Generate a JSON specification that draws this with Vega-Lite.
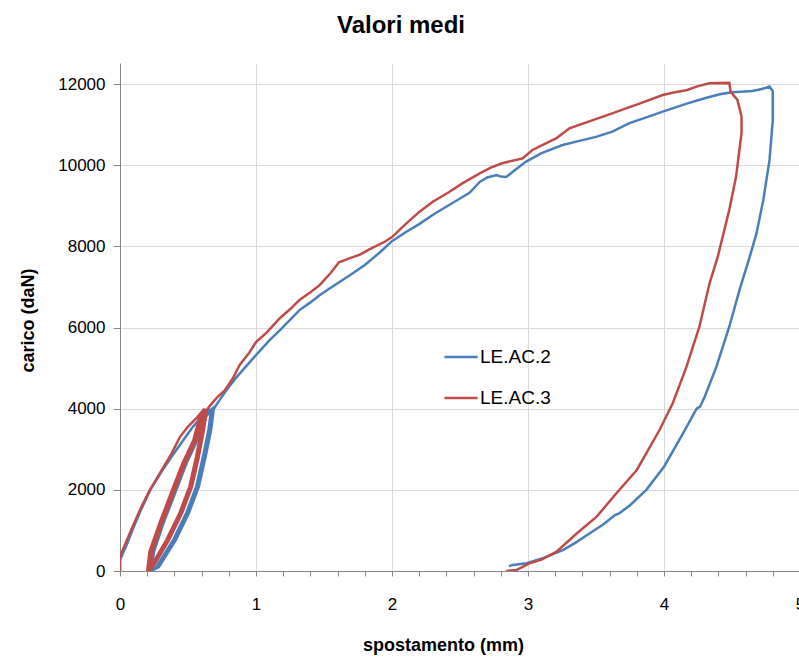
{
  "$schema": "https://vega.github.io/schema/vega-lite/v6.json",
  "autosize": "none",
  "padding": {"left": 120, "top": 63, "right": 0, "bottom": 86},
  "width": 680,
  "height": 508,
  "background": "white",
  "title": {
    "text": "Valori medi",
    "font": "Liberation Sans",
    "fontSize": 24,
    "fontWeight": "bold",
    "color": "#000000",
    "anchor": "middle",
    "dx": -59,
    "baseline": "alphabetic",
    "offset": 6
  },
  "config": {
    "view": {"stroke": null},
    "axis": {
      "domainColor": "#868686",
      "tickColor": "#868686",
      "gridColor": "#D9D9D9",
      "labelColor": "#000000",
      "titleColor": "#000000",
      "labelFont": "Liberation Sans",
      "labelFontSize": 17,
      "titleFont": "Liberation Sans",
      "titleFontSize": 18,
      "titleFontWeight": "bold"
    }
  },
  "data": {
    "values": [
      {"s":"LE.AC.2","i":1,"x":0,"y":0},{"s":"LE.AC.2","i":2,"x":0,"y":270},{"s":"LE.AC.2","i":3,"x":0.05,"y":650},{"s":"LE.AC.2","i":4,"x":0.1,"y":1080},{"s":"LE.AC.2","i":5,"x":0.16,"y":1550},{"s":"LE.AC.2","i":6,"x":0.22,"y":1980},{"s":"LE.AC.2","i":7,"x":0.3,"y":2420},{"s":"LE.AC.2","i":8,"x":0.38,"y":2820},{"s":"LE.AC.2","i":9,"x":0.46,"y":3200},{"s":"LE.AC.2","i":10,"x":0.53,"y":3530},{"s":"LE.AC.2","i":11,"x":0.6,"y":3800},{"s":"LE.AC.2","i":12,"x":0.66,"y":4000},
      {"s":"LE.AC.2","i":13,"x":0.55,"y":3230},{"s":"LE.AC.2","i":14,"x":0.47,"y":2660},{"s":"LE.AC.2","i":15,"x":0.375,"y":1830},{"s":"LE.AC.2","i":16,"x":0.3,"y":1180},{"s":"LE.AC.2","i":17,"x":0.23,"y":480},{"s":"LE.AC.2","i":18,"x":0.21,"y":0},
      {"s":"LE.AC.2","i":19,"x":0.266,"y":100},{"s":"LE.AC.2","i":20,"x":0.39,"y":760},{"s":"LE.AC.2","i":21,"x":0.487,"y":1430},{"s":"LE.AC.2","i":22,"x":0.56,"y":2080},{"s":"LE.AC.2","i":23,"x":0.61,"y":2820},{"s":"LE.AC.2","i":24,"x":0.65,"y":3475},{"s":"LE.AC.2","i":25,"x":0.67,"y":3970},
      {"s":"LE.AC.2","i":26,"x":0.62,"y":3800},{"s":"LE.AC.2","i":27,"x":0.56,"y":3230},{"s":"LE.AC.2","i":28,"x":0.48,"y":2660},{"s":"LE.AC.2","i":29,"x":0.385,"y":1830},{"s":"LE.AC.2","i":30,"x":0.31,"y":1180},{"s":"LE.AC.2","i":31,"x":0.24,"y":480},{"s":"LE.AC.2","i":32,"x":0.22,"y":0},
      {"s":"LE.AC.2","i":33,"x":0.276,"y":100},{"s":"LE.AC.2","i":34,"x":0.4,"y":760},{"s":"LE.AC.2","i":35,"x":0.497,"y":1430},{"s":"LE.AC.2","i":36,"x":0.57,"y":2080},{"s":"LE.AC.2","i":37,"x":0.62,"y":2820},{"s":"LE.AC.2","i":38,"x":0.66,"y":3475},{"s":"LE.AC.2","i":39,"x":0.68,"y":3990},
      {"s":"LE.AC.2","i":40,"x":0.63,"y":3800},{"s":"LE.AC.2","i":41,"x":0.57,"y":3230},{"s":"LE.AC.2","i":42,"x":0.49,"y":2660},{"s":"LE.AC.2","i":43,"x":0.395,"y":1830},{"s":"LE.AC.2","i":44,"x":0.32,"y":1180},{"s":"LE.AC.2","i":45,"x":0.25,"y":480},{"s":"LE.AC.2","i":46,"x":0.23,"y":0},
      {"s":"LE.AC.2","i":47,"x":0.286,"y":100},{"s":"LE.AC.2","i":48,"x":0.41,"y":760},{"s":"LE.AC.2","i":49,"x":0.507,"y":1430},{"s":"LE.AC.2","i":50,"x":0.58,"y":2080},{"s":"LE.AC.2","i":51,"x":0.63,"y":2820},{"s":"LE.AC.2","i":52,"x":0.67,"y":3475},{"s":"LE.AC.2","i":53,"x":0.69,"y":4000},
      {"s":"LE.AC.2","i":54,"x":0.72,"y":4150},{"s":"LE.AC.2","i":55,"x":0.77,"y":4400},{"s":"LE.AC.2","i":56,"x":0.84,"y":4710},{"s":"LE.AC.2","i":57,"x":0.92,"y":5020},{"s":"LE.AC.2","i":58,"x":1.0,"y":5320},{"s":"LE.AC.2","i":59,"x":1.1,"y":5690},{"s":"LE.AC.2","i":60,"x":1.18,"y":5950},{"s":"LE.AC.2","i":61,"x":1.25,"y":6190},{"s":"LE.AC.2","i":62,"x":1.32,"y":6430},{"s":"LE.AC.2","i":63,"x":1.4,"y":6620},{"s":"LE.AC.2","i":64,"x":1.47,"y":6800},{"s":"LE.AC.2","i":65,"x":1.58,"y":7050},{"s":"LE.AC.2","i":66,"x":1.69,"y":7290},{"s":"LE.AC.2","i":67,"x":1.8,"y":7540},{"s":"LE.AC.2","i":68,"x":1.91,"y":7850},{"s":"LE.AC.2","i":69,"x":2.0,"y":8130},{"s":"LE.AC.2","i":70,"x":2.1,"y":8350},{"s":"LE.AC.2","i":71,"x":2.2,"y":8550},{"s":"LE.AC.2","i":72,"x":2.31,"y":8800},{"s":"LE.AC.2","i":73,"x":2.42,"y":9020},{"s":"LE.AC.2","i":74,"x":2.5,"y":9180},{"s":"LE.AC.2","i":75,"x":2.57,"y":9320},{"s":"LE.AC.2","i":76,"x":2.645,"y":9590},{"s":"LE.AC.2","i":77,"x":2.7,"y":9700},{"s":"LE.AC.2","i":78,"x":2.77,"y":9760},{"s":"LE.AC.2","i":79,"x":2.8,"y":9720},{"s":"LE.AC.2","i":80,"x":2.84,"y":9710},{"s":"LE.AC.2","i":81,"x":2.9,"y":9870},{"s":"LE.AC.2","i":82,"x":2.986,"y":10090},{"s":"LE.AC.2","i":83,"x":3.1,"y":10300},{"s":"LE.AC.2","i":84,"x":3.254,"y":10500},{"s":"LE.AC.2","i":85,"x":3.4,"y":10620},{"s":"LE.AC.2","i":86,"x":3.5,"y":10700},{"s":"LE.AC.2","i":87,"x":3.62,"y":10830},{"s":"LE.AC.2","i":88,"x":3.746,"y":11040},{"s":"LE.AC.2","i":89,"x":3.87,"y":11180},{"s":"LE.AC.2","i":90,"x":3.99,"y":11320},{"s":"LE.AC.2","i":91,"x":4.08,"y":11420},{"s":"LE.AC.2","i":92,"x":4.167,"y":11520},{"s":"LE.AC.2","i":93,"x":4.3,"y":11650},{"s":"LE.AC.2","i":94,"x":4.41,"y":11750},{"s":"LE.AC.2","i":95,"x":4.5,"y":11800},{"s":"LE.AC.2","i":96,"x":4.65,"y":11830},{"s":"LE.AC.2","i":97,"x":4.72,"y":11880},{"s":"LE.AC.2","i":98,"x":4.776,"y":11940},
      {"s":"LE.AC.2","i":99,"x":4.8,"y":11820},{"s":"LE.AC.2","i":100,"x":4.8,"y":11110},{"s":"LE.AC.2","i":101,"x":4.776,"y":10130},{"s":"LE.AC.2","i":102,"x":4.73,"y":9140},{"s":"LE.AC.2","i":103,"x":4.68,"y":8320},{"s":"LE.AC.2","i":104,"x":4.63,"y":7740},{"s":"LE.AC.2","i":105,"x":4.555,"y":6920},{"s":"LE.AC.2","i":106,"x":4.48,"y":6020},{"s":"LE.AC.2","i":107,"x":4.385,"y":5030},{"s":"LE.AC.2","i":108,"x":4.3,"y":4300},{"s":"LE.AC.2","i":109,"x":4.265,"y":4050},{"s":"LE.AC.2","i":110,"x":4.24,"y":4000},{"s":"LE.AC.2","i":111,"x":4.14,"y":3390},{"s":"LE.AC.2","i":112,"x":4.0,"y":2570},{"s":"LE.AC.2","i":113,"x":3.87,"y":2000},{"s":"LE.AC.2","i":114,"x":3.75,"y":1620},{"s":"LE.AC.2","i":115,"x":3.67,"y":1420},{"s":"LE.AC.2","i":116,"x":3.64,"y":1380},{"s":"LE.AC.2","i":117,"x":3.555,"y":1150},{"s":"LE.AC.2","i":118,"x":3.455,"y":930},{"s":"LE.AC.2","i":119,"x":3.35,"y":700},{"s":"LE.AC.2","i":120,"x":3.26,"y":520},{"s":"LE.AC.2","i":121,"x":3.12,"y":330},{"s":"LE.AC.2","i":122,"x":2.99,"y":190},{"s":"LE.AC.2","i":123,"x":2.89,"y":150},{"s":"LE.AC.2","i":124,"x":2.86,"y":120},

      {"s":"LE.AC.3","i":1,"x":0,"y":0},{"s":"LE.AC.3","i":2,"x":0,"y":350},{"s":"LE.AC.3","i":3,"x":0.03,"y":600},{"s":"LE.AC.3","i":4,"x":0.1,"y":1150},{"s":"LE.AC.3","i":5,"x":0.16,"y":1600},{"s":"LE.AC.3","i":6,"x":0.22,"y":2000},{"s":"LE.AC.3","i":7,"x":0.3,"y":2450},{"s":"LE.AC.3","i":8,"x":0.38,"y":2900},{"s":"LE.AC.3","i":9,"x":0.44,"y":3300},{"s":"LE.AC.3","i":10,"x":0.5,"y":3560},{"s":"LE.AC.3","i":11,"x":0.56,"y":3760},{"s":"LE.AC.3","i":12,"x":0.62,"y":4000},
      {"s":"LE.AC.3","i":13,"x":0.585,"y":3800},{"s":"LE.AC.3","i":14,"x":0.54,"y":3230},{"s":"LE.AC.3","i":15,"x":0.46,"y":2660},{"s":"LE.AC.3","i":16,"x":0.364,"y":1830},{"s":"LE.AC.3","i":17,"x":0.29,"y":1180},{"s":"LE.AC.3","i":18,"x":0.217,"y":480},{"s":"LE.AC.3","i":19,"x":0.2,"y":0},
      {"s":"LE.AC.3","i":20,"x":0.24,"y":190},{"s":"LE.AC.3","i":21,"x":0.34,"y":760},{"s":"LE.AC.3","i":22,"x":0.437,"y":1430},{"s":"LE.AC.3","i":23,"x":0.51,"y":2080},{"s":"LE.AC.3","i":24,"x":0.56,"y":2820},{"s":"LE.AC.3","i":25,"x":0.597,"y":3475},{"s":"LE.AC.3","i":26,"x":0.62,"y":3970},
      {"s":"LE.AC.3","i":27,"x":0.595,"y":3800},{"s":"LE.AC.3","i":28,"x":0.55,"y":3230},{"s":"LE.AC.3","i":29,"x":0.47,"y":2660},{"s":"LE.AC.3","i":30,"x":0.374,"y":1830},{"s":"LE.AC.3","i":31,"x":0.3,"y":1180},{"s":"LE.AC.3","i":32,"x":0.227,"y":480},{"s":"LE.AC.3","i":33,"x":0.21,"y":0},
      {"s":"LE.AC.3","i":34,"x":0.25,"y":190},{"s":"LE.AC.3","i":35,"x":0.35,"y":760},{"s":"LE.AC.3","i":36,"x":0.447,"y":1430},{"s":"LE.AC.3","i":37,"x":0.52,"y":2080},{"s":"LE.AC.3","i":38,"x":0.57,"y":2820},{"s":"LE.AC.3","i":39,"x":0.607,"y":3475},{"s":"LE.AC.3","i":40,"x":0.63,"y":4000},
      {"s":"LE.AC.3","i":41,"x":0.605,"y":3800},{"s":"LE.AC.3","i":42,"x":0.56,"y":3230},{"s":"LE.AC.3","i":43,"x":0.48,"y":2660},{"s":"LE.AC.3","i":44,"x":0.384,"y":1830},{"s":"LE.AC.3","i":45,"x":0.31,"y":1180},{"s":"LE.AC.3","i":46,"x":0.237,"y":480},{"s":"LE.AC.3","i":47,"x":0.22,"y":0},
      {"s":"LE.AC.3","i":48,"x":0.26,"y":190},{"s":"LE.AC.3","i":49,"x":0.36,"y":760},{"s":"LE.AC.3","i":50,"x":0.457,"y":1430},{"s":"LE.AC.3","i":51,"x":0.53,"y":2080},{"s":"LE.AC.3","i":52,"x":0.58,"y":2820},{"s":"LE.AC.3","i":53,"x":0.617,"y":3475},{"s":"LE.AC.3","i":54,"x":0.64,"y":3980},
      {"s":"LE.AC.3","i":55,"x":0.68,"y":4150},{"s":"LE.AC.3","i":56,"x":0.72,"y":4300},{"s":"LE.AC.3","i":57,"x":0.77,"y":4450},{"s":"LE.AC.3","i":58,"x":0.83,"y":4750},{"s":"LE.AC.3","i":59,"x":0.88,"y":5080},{"s":"LE.AC.3","i":60,"x":0.95,"y":5380},{"s":"LE.AC.3","i":61,"x":1.0,"y":5640},{"s":"LE.AC.3","i":62,"x":1.08,"y":5880},{"s":"LE.AC.3","i":63,"x":1.175,"y":6230},{"s":"LE.AC.3","i":64,"x":1.25,"y":6450},{"s":"LE.AC.3","i":65,"x":1.32,"y":6680},{"s":"LE.AC.3","i":66,"x":1.4,"y":6870},{"s":"LE.AC.3","i":67,"x":1.47,"y":7050},{"s":"LE.AC.3","i":68,"x":1.55,"y":7350},{"s":"LE.AC.3","i":69,"x":1.61,"y":7610},{"s":"LE.AC.3","i":70,"x":1.68,"y":7700},{"s":"LE.AC.3","i":71,"x":1.76,"y":7790},{"s":"LE.AC.3","i":72,"x":1.82,"y":7900},{"s":"LE.AC.3","i":73,"x":1.87,"y":7990},{"s":"LE.AC.3","i":74,"x":1.95,"y":8120},{"s":"LE.AC.3","i":75,"x":2.0,"y":8230},{"s":"LE.AC.3","i":76,"x":2.1,"y":8550},{"s":"LE.AC.3","i":77,"x":2.2,"y":8850},{"s":"LE.AC.3","i":78,"x":2.3,"y":9100},{"s":"LE.AC.3","i":79,"x":2.42,"y":9340},{"s":"LE.AC.3","i":80,"x":2.52,"y":9560},{"s":"LE.AC.3","i":81,"x":2.645,"y":9800},{"s":"LE.AC.3","i":82,"x":2.73,"y":9950},{"s":"LE.AC.3","i":83,"x":2.81,"y":10050},{"s":"LE.AC.3","i":84,"x":2.96,"y":10170},{"s":"LE.AC.3","i":85,"x":3.03,"y":10370},{"s":"LE.AC.3","i":86,"x":3.12,"y":10520},{"s":"LE.AC.3","i":87,"x":3.21,"y":10670},{"s":"LE.AC.3","i":88,"x":3.305,"y":10910},{"s":"LE.AC.3","i":89,"x":3.45,"y":11080},{"s":"LE.AC.3","i":90,"x":3.62,"y":11280},{"s":"LE.AC.3","i":91,"x":3.72,"y":11400},{"s":"LE.AC.3","i":92,"x":3.82,"y":11520},{"s":"LE.AC.3","i":93,"x":3.99,"y":11730},{"s":"LE.AC.3","i":94,"x":4.08,"y":11800},{"s":"LE.AC.3","i":95,"x":4.165,"y":11850},{"s":"LE.AC.3","i":96,"x":4.25,"y":11950},{"s":"LE.AC.3","i":97,"x":4.335,"y":12020},{"s":"LE.AC.3","i":98,"x":4.48,"y":12030},
      {"s":"LE.AC.3","i":99,"x":4.49,"y":11810},{"s":"LE.AC.3","i":100,"x":4.54,"y":11610},{"s":"LE.AC.3","i":101,"x":4.57,"y":11200},{"s":"LE.AC.3","i":102,"x":4.57,"y":10790},{"s":"LE.AC.3","i":103,"x":4.53,"y":9720},{"s":"LE.AC.3","i":104,"x":4.48,"y":8900},{"s":"LE.AC.3","i":105,"x":4.395,"y":7740},{"s":"LE.AC.3","i":106,"x":4.335,"y":7090},{"s":"LE.AC.3","i":107,"x":4.26,"y":6020},{"s":"LE.AC.3","i":108,"x":4.165,"y":5030},{"s":"LE.AC.3","i":109,"x":4.065,"y":4140},{"s":"LE.AC.3","i":110,"x":3.967,"y":3475},{"s":"LE.AC.3","i":111,"x":3.8,"y":2490},{"s":"LE.AC.3","i":112,"x":3.65,"y":1915},{"s":"LE.AC.3","i":113,"x":3.505,"y":1340},{"s":"LE.AC.3","i":114,"x":3.36,"y":930},{"s":"LE.AC.3","i":115,"x":3.21,"y":476},{"s":"LE.AC.3","i":116,"x":3.1,"y":280},{"s":"LE.AC.3","i":117,"x":3.01,"y":190},{"s":"LE.AC.3","i":118,"x":2.915,"y":25},{"s":"LE.AC.3","i":119,"x":2.84,"y":0}
    ]
  },
  "mark": {"type": "line", "strokeWidth": 2.5, "interpolate": "linear", "clip": true},
  "encoding": {
    "x": {
      "field": "x",
      "type": "quantitative",
      "scale": {"domain": [0, 5], "nice": false},
      "axis": {
        "title": "spostamento (mm)",
        "values": [0,0.2,0.4,0.6,0.8,1,1.2,1.4,1.6,1.8,2,2.2,2.4,2.6,2.8,3,3.2,3.4,3.6,3.8,4,4.2,4.4,4.6,4.8,5],
        "labelExpr": "datum.value % 1 === 0 ? '' + datum.value : ''",
        "labelOverlap": false,
        "labelFlush": false,
        "labelPadding": 20,
        "tickSize": 5,
        "grid": true,
        "gridOpacity": {"condition": {"test": "datum.value % 1 === 0 && datum.value > 0", "value": 1}, "value": 0},
        "titleX": 323,
        "titleY": 74,
        "titleBaseline": "middle",
        "titleAlign": "center"
      }
    },
    "y": {
      "field": "y",
      "type": "quantitative",
      "scale": {"domain": [0, 12520], "nice": false},
      "axis": {
        "title": "carico (daN)",
        "values": [0,2000,4000,6000,8000,10000,12000],
        "format": "d",
        "tickSize": 7,
        "labelPadding": 8,
        "grid": true,
        "titleAngle": 270,
        "titleX": -92,
        "titleY": 257,
        "titleBaseline": "middle",
        "titleAlign": "center"
      }
    },
    "color": {
      "field": "s",
      "type": "nominal",
      "scale": {"domain": ["LE.AC.2", "LE.AC.3"], "range": ["#4A7EBB", "#BE4B48"]},
      "legend": {
        "title": null,
        "orient": "none",
        "legendX": 323,
        "legendY": 276,
        "symbolType": "stroke",
        "symbolStrokeWidth": 2.5,
        "symbolSize": 1100,
        "labelFont": "Liberation Sans",
        "labelFontSize": 19,
        "labelColor": "#000000",
        "labelOffset": 1,
        "rowPadding": 13
      }
    },
    "order": {"field": "i", "type": "quantitative"}
  }
}
